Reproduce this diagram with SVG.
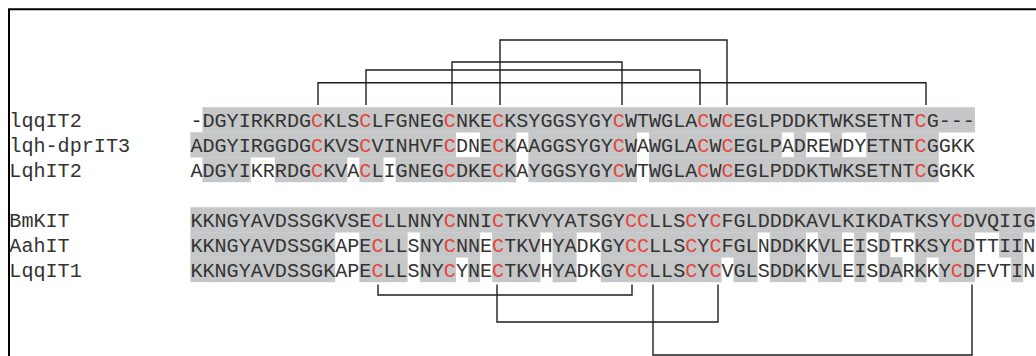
<svg xmlns="http://www.w3.org/2000/svg" width="1036" height="356" viewBox="0 0 1036 356">
<style>
.t{font-family:"Liberation Mono","Courier New",monospace;font-size:20.11px;fill:#333}
.c{fill:#e5443a}
.g{fill:#c6c7c8}
.br{fill:none;stroke:#1e1e1e;stroke-width:1.4}
.fr{fill:none;stroke:#000;stroke-width:2}
</style>
<rect width="1036" height="356" fill="#fff"/>
<path class="fr" d="M9,356 V9.3 H1036"/>
<g id="shading-group1">
<rect class="g" x="202.47" y="107.2" width="772.48" height="25.3"/>
<rect class="g" x="190.4" y="132.2" width="265.54" height="25.3"/>
<rect class="g" x="480.08" y="132.2" width="36.21" height="25.3"/>
<rect class="g" x="528.36" y="132.2" width="108.63" height="25.3"/>
<rect class="g" x="649.06" y="132.2" width="132.77" height="25.3"/>
<rect class="g" x="793.9" y="132.2" width="12.07" height="25.3"/>
<rect class="g" x="830.11" y="132.2" width="12.07" height="25.3"/>
<rect class="g" x="866.32" y="132.2" width="72.42" height="25.3"/>
<rect class="g" x="202.47" y="157.2" width="48.28" height="25"/>
<rect class="g" x="274.89" y="157.2" width="72.42" height="25"/>
<rect class="g" x="359.38" y="157.2" width="24.14" height="25"/>
<rect class="g" x="395.59" y="157.2" width="120.7" height="25"/>
<rect class="g" x="528.36" y="157.2" width="108.63" height="25"/>
<rect class="g" x="649.06" y="157.2" width="289.68" height="25"/>
</g>
<g id="shading-group2">
<rect class="g" x="190.4" y="207.2" width="844.9" height="25.3"/>
<rect class="g" x="190.4" y="232.2" width="144.84" height="25.3"/>
<rect class="g" x="359.38" y="232.2" width="48.28" height="25.3"/>
<rect class="g" x="419.73" y="232.2" width="60.35" height="25.3"/>
<rect class="g" x="492.15" y="232.2" width="48.28" height="25.3"/>
<rect class="g" x="552.5" y="232.2" width="24.14" height="25.3"/>
<rect class="g" x="600.78" y="232.2" width="156.91" height="25.3"/>
<rect class="g" x="769.76" y="232.2" width="36.21" height="25.3"/>
<rect class="g" x="818.04" y="232.2" width="24.14" height="25.3"/>
<rect class="g" x="854.25" y="232.2" width="12.07" height="25.3"/>
<rect class="g" x="878.39" y="232.2" width="12.07" height="25.3"/>
<rect class="g" x="914.6" y="232.2" width="60.35" height="25.3"/>
<rect class="g" x="999.09" y="232.2" width="24.14" height="25.3"/>
<rect class="g" x="190.4" y="257.2" width="144.84" height="25"/>
<rect class="g" x="359.38" y="257.2" width="48.28" height="25"/>
<rect class="g" x="419.73" y="257.2" width="36.21" height="25"/>
<rect class="g" x="468.01" y="257.2" width="12.07" height="25"/>
<rect class="g" x="492.15" y="257.2" width="48.28" height="25"/>
<rect class="g" x="552.5" y="257.2" width="24.14" height="25"/>
<rect class="g" x="600.78" y="257.2" width="120.7" height="25"/>
<rect class="g" x="733.55" y="257.2" width="24.14" height="25"/>
<rect class="g" x="769.76" y="257.2" width="36.21" height="25"/>
<rect class="g" x="818.04" y="257.2" width="24.14" height="25"/>
<rect class="g" x="854.25" y="257.2" width="12.07" height="25"/>
<rect class="g" x="878.39" y="257.2" width="24.14" height="25"/>
<rect class="g" x="914.6" y="257.2" width="12.07" height="25"/>
<rect class="g" x="938.74" y="257.2" width="36.21" height="25"/>
<rect class="g" x="1011.16" y="257.2" width="12.07" height="25"/>
</g>
<g id="connectors">
<path class="br" d="M318,105 V82.7 H926 V105"/>
<path class="br" d="M366,105 V70 H700 V105"/>
<path class="br" d="M452,105 V62 H622 V105"/>
<path class="br" d="M500,105 V40 H727 V105"/>
<path class="br" d="M378,284.5 V295 H632 V284.5"/>
<path class="br" d="M497,284.5 V322 H718 V284.5"/>
<path class="br" d="M653,284.5 V355 H972 V284.5"/>
</g>
<g id="lqqIT2">
<text class="t" x="9.35" y="126.7">lqqIT2</text>
<text class="t" x="190.4" y="126.7">-DGYIRKRDG<tspan class="c">C</tspan>KLS<tspan class="c">C</tspan>LFGNEG<tspan class="c">C</tspan>NKE<tspan class="c">C</tspan>KSYGGSYGY<tspan class="c">C</tspan>WTWGLA<tspan class="c">C</tspan>W<tspan class="c">C</tspan>EGLPDDKTWKSETNT<tspan class="c">C</tspan>G---</text>
</g>
<g id="lqh-dprIT3">
<text class="t" x="9.35" y="151.7">lqh-dprIT3</text>
<text class="t" x="190.4" y="151.7">ADGYIRGGDG<tspan class="c">C</tspan>KVS<tspan class="c">C</tspan>VINHVF<tspan class="c">C</tspan>DNE<tspan class="c">C</tspan>KAAGGSYGY<tspan class="c">C</tspan>WAWGLA<tspan class="c">C</tspan>W<tspan class="c">C</tspan>EGLPADREWDYETNT<tspan class="c">C</tspan>GGKK</text>
</g>
<g id="LqhIT2">
<text class="t" x="9.35" y="176.7">LqhIT2</text>
<text class="t" x="190.4" y="176.7">ADGYIKRRDG<tspan class="c">C</tspan>KVA<tspan class="c">C</tspan>LIGNEG<tspan class="c">C</tspan>DKE<tspan class="c">C</tspan>KAYGGSYGY<tspan class="c">C</tspan>WTWGLA<tspan class="c">C</tspan>W<tspan class="c">C</tspan>EGLPDDKTWKSETNT<tspan class="c">C</tspan>GGKK</text>
</g>
<g id="BmKIT">
<text class="t" x="9.35" y="226.7">BmKIT</text>
<text class="t" x="190.4" y="226.7">KKNGYAVDSSGKVSE<tspan class="c">C</tspan>LLNNY<tspan class="c">C</tspan>NNI<tspan class="c">C</tspan>TKVYYATSGY<tspan class="c">CC</tspan>LLS<tspan class="c">C</tspan>Y<tspan class="c">C</tspan>FGLDDDKAVLKIKDATKSY<tspan class="c">C</tspan>DVQIIG</text>
</g>
<g id="AahIT">
<text class="t" x="9.35" y="251.7">AahIT</text>
<text class="t" x="190.4" y="251.7">KKNGYAVDSSGKAPE<tspan class="c">C</tspan>LLSNY<tspan class="c">C</tspan>NNE<tspan class="c">C</tspan>TKVHYADKGY<tspan class="c">CC</tspan>LLS<tspan class="c">C</tspan>Y<tspan class="c">C</tspan>FGLNDDKKVLEISDTRKSY<tspan class="c">C</tspan>DTTIIN</text>
</g>
<g id="LqqIT1">
<text class="t" x="9.35" y="276.7">LqqIT1</text>
<text class="t" x="190.4" y="276.7">KKNGYAVDSSGKAPE<tspan class="c">C</tspan>LLSNY<tspan class="c">C</tspan>YNE<tspan class="c">C</tspan>TKVHYADKGY<tspan class="c">CC</tspan>LLS<tspan class="c">C</tspan>Y<tspan class="c">C</tspan>VGLSDDKKVLEISDARKKY<tspan class="c">C</tspan>DFVTIN</text>
</g>
</svg>
